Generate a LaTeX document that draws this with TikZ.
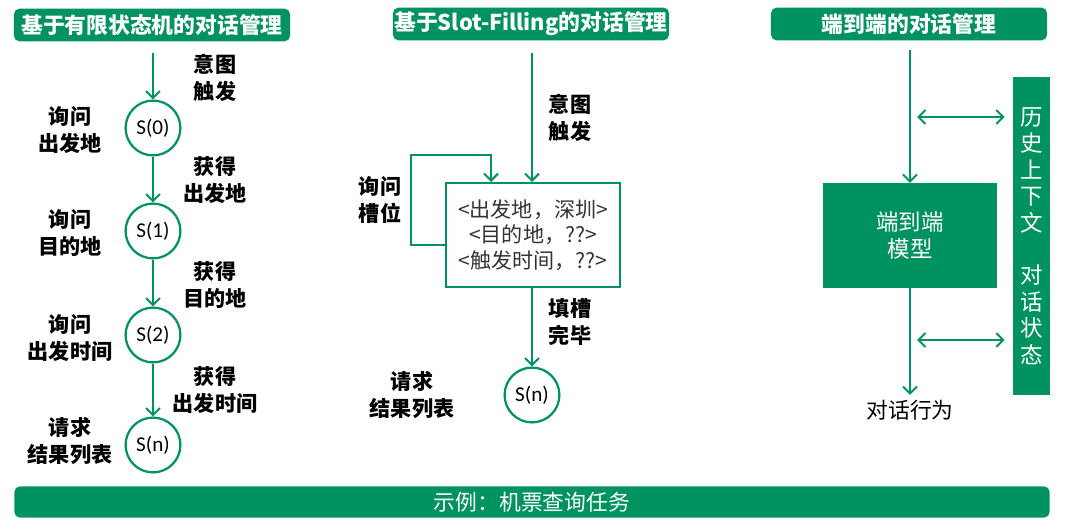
\documentclass[tikz,border=0pt]{standalone}
\usepackage{fontspec}
\setmainfont{Carlito}
\newfontfamily\cjk{Noto Sans CJK SC}
\usetikzlibrary{arrows.meta,positioning}
\definecolor{dmgreen}{RGB}{0,146,95}

\begin{document}
\begin{tikzpicture}[x=0.025cm,y=-0.025cm,
    title/.style = {fill=dmgreen, rounded corners=4pt, text=white, inner sep=0pt,
      minimum width=6.9cm, minimum height=0.82cm, font=\cjk\bfseries\fontsize{15.5}{18}\selectfont},
    state/.style = {draw=dmgreen, circle, line width=1.6pt, minimum size=1.37cm,
      inner sep=0pt, font=\fontsize{15}{16}\selectfont},
    lbl/.style = {align=center, font=\cjk\bfseries\fontsize{15}{19}\selectfont},
    flow/.style = {draw=dmgreen, line width=1.4pt, -{Straight Barb[length=5pt,width=10pt]}},
    both/.style = {flow, {Straight Barb[length=5pt,width=10pt]}-{Straight Barb[length=5pt,width=10pt]}}]
  \useasboundingbox (0,0) rectangle (1067,530);
  % titles
  \node[title] (t1) at (152,25) {基于有限状态机的对话管理};
  \node[title] (t2) at (531,24) {基于Slot-Filling的对话管理};
  \node[title] (t3) at (909,24) {端到端的对话管理};
  \node[title, minimum width=25.875cm, minimum height=0.78cm, font=\cjk\fontsize{15.5}{18}\selectfont] (ex) at (532,502) {示例：机票查询任务};
  %
  % finite state machine
  \coordinate (in1) at (153,53);
  \node[state] (s0) at (153,128) {S(0)};
  \node[state] (s1) at (153,231) {S(1)};
  \node[state] (s2) at (153,335) {S(2)};
  \node[state] (sn) at (153,445) {S(n)};
  \node[lbl] (i1) at (215,78) {意图\\触发};
  \node[lbl] (a0) at (70,130) {询问\\出发地};
  \node[lbl] (g0) at (215,180) {获得\\出发地};
  \node[lbl] (a1) at (70,233) {询问\\目的地};
  \node[lbl] (g1) at (215,285) {获得\\目的地};
  \node[lbl] (a2) at (70,338) {询问\\出发时间};
  \node[lbl] (g2) at (215,390) {获得\\出发时间};
  \node[lbl] (an) at (70,441) {请求\\结果列表};
  \draw[flow] (in1) -- (s0);
  \draw[flow] (s0) -- (s1);
  \draw[flow] (s1) -- (s2);
  \draw[flow] (s2) -- (sn);
  %
  % slot filling
  \coordinate (in2) at (532,53);
  \node[draw=dmgreen, line width=1.4pt, minimum width=4.35cm, minimum height=2.6cm, align=center,
    text=black!80, font=\cjk\fontsize{15}{18}\selectfont] (slots) at (533,235)
    {<出发地，深圳>\\<目的地，??>\\<触发时间，??>};
  \node[state] (sn2) at (532,395) {S(n)};
  \node[lbl] (i2) at (570,118) {意图\\触发};
  \node[lbl] (ask) at (380,200) {询问\\槽位};
  \node[lbl] (done) at (570,322) {填槽\\完毕};
  \node[lbl] (req) at (412,395) {请求\\结果列表};
  \draw[flow] (in2) -- (slots.north -| in2);
  \draw[flow] ([yshift=-0.25cm]slots.west) -- ++(-34,0) |- (491,155) -- (slots.north -| 491,0);
  \draw[flow] (slots.south -| sn2) -- (sn2);
  %
  % end to end
  \coordinate (in3) at (910,50);
  \node[fill=dmgreen, minimum width=4.35cm, minimum height=2.62cm, align=center, text=white,
    font=\cjk\fontsize{16}{19}\selectfont] (model) at (910,235.5) {端到端\\模型};
  \node[fill=dmgreen, minimum width=0.925cm, minimum height=7.95cm, inner sep=0pt, align=center,
    text=white, font=\cjk\fontsize{16}{18.8}\selectfont] (ctx) at (1031.5,236)
    {历\\史\\上\\下\\文\\[18.8pt]对\\话\\状\\态};
  \node[font=\cjk\fontsize{15.5}{18}\selectfont] (act) at (910,410) {对话行为};
  \draw[flow] (in3) -- (model);
  \draw[flow] (model) -- (act);
  \coordinate (h1) at (917,117);
  \coordinate (h2) at (917,340);
  \draw[both, shorten >=0.2cm] (h1) -- (h1 -| ctx.west);
  \draw[both, shorten >=0.2cm] (h2) -- (h2 -| ctx.west);
\end{tikzpicture}
\end{document}
